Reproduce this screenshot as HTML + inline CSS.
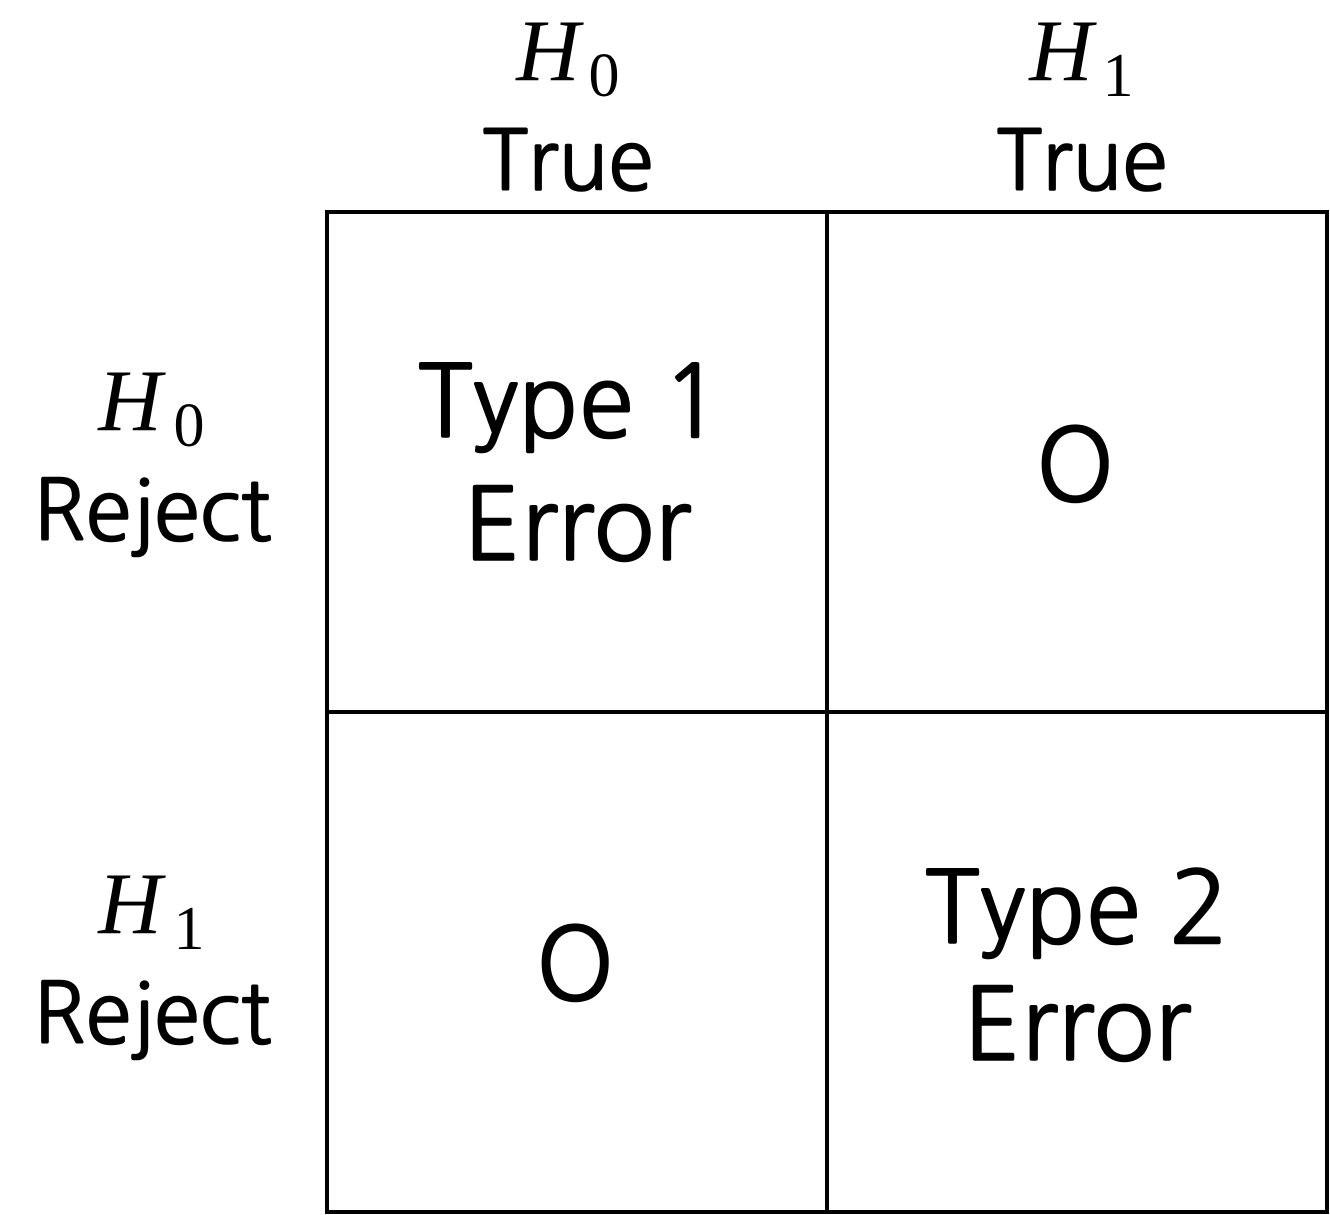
<!DOCTYPE html>
<html><head><meta charset="utf-8"><style>
html,body{margin:0;padding:0;background:#fff;}
svg{display:block;}
.lab{font-family:"NanumGothic","Liberation Sans",sans-serif;fill:#000;stroke:#000;stroke-width:1.6;}
.math{font-family:"Liberation Serif","DejaVu Serif",serif;fill:#000;}
</style></head><body>
<svg width="1330" height="1215" viewBox="0 0 1330 1215">
<g stroke="#000" stroke-width="4" fill="none">
<rect x="327" y="212" width="1000" height="1000"/>
<line x1="827" y1="212" x2="827" y2="1212"/>
<line x1="327" y1="712" x2="1327" y2="712"/>
</g>
<g>
<text class="math" x="548" y="80" font-size="88" font-style="italic" text-anchor="middle">H</text>
<text class="math" x="604" y="96" font-size="62" text-anchor="middle">0</text>
<text class="lab" x="568" y="190" font-size="83" text-anchor="middle">True</text>
</g>
<g>
<text class="math" x="1061" y="80" font-size="88" font-style="italic" text-anchor="middle">H</text>
<text class="math" x="1118" y="96" font-size="62" text-anchor="middle">1</text>
<text class="lab" x="1082" y="190" font-size="83" text-anchor="middle">True</text>
</g>
<g>
<text class="math" x="130" y="430" font-size="88" font-style="italic" text-anchor="middle">H</text>
<text class="math" x="189" y="446" font-size="62" text-anchor="middle">0</text>
<text class="lab" x="152" y="540" font-size="84" text-anchor="middle">Reject</text>
</g>
<g>
<text class="math" x="130" y="933" font-size="88" font-style="italic" text-anchor="middle">H</text>
<text class="math" x="189" y="949" font-size="62" text-anchor="middle">1</text>
<text class="lab" x="152" y="1043" font-size="84" text-anchor="middle">Reject</text>
</g>
<g>
<text class="lab" x="570" y="437" font-size="100" text-anchor="middle">Type 1</text>
<text class="lab" x="577" y="560" font-size="100" text-anchor="middle">Error</text>
</g>
<text class="lab" x="1075" y="501" font-size="100" text-anchor="middle">O</text>
<text class="lab" x="575" y="1000" font-size="100" text-anchor="middle">O</text>
<g>
<text class="lab" x="1077" y="943" font-size="100" text-anchor="middle">Type 2</text>
<text class="lab" x="1077" y="1060" font-size="100" text-anchor="middle">Error</text>
</g>
</svg>
</body></html>
